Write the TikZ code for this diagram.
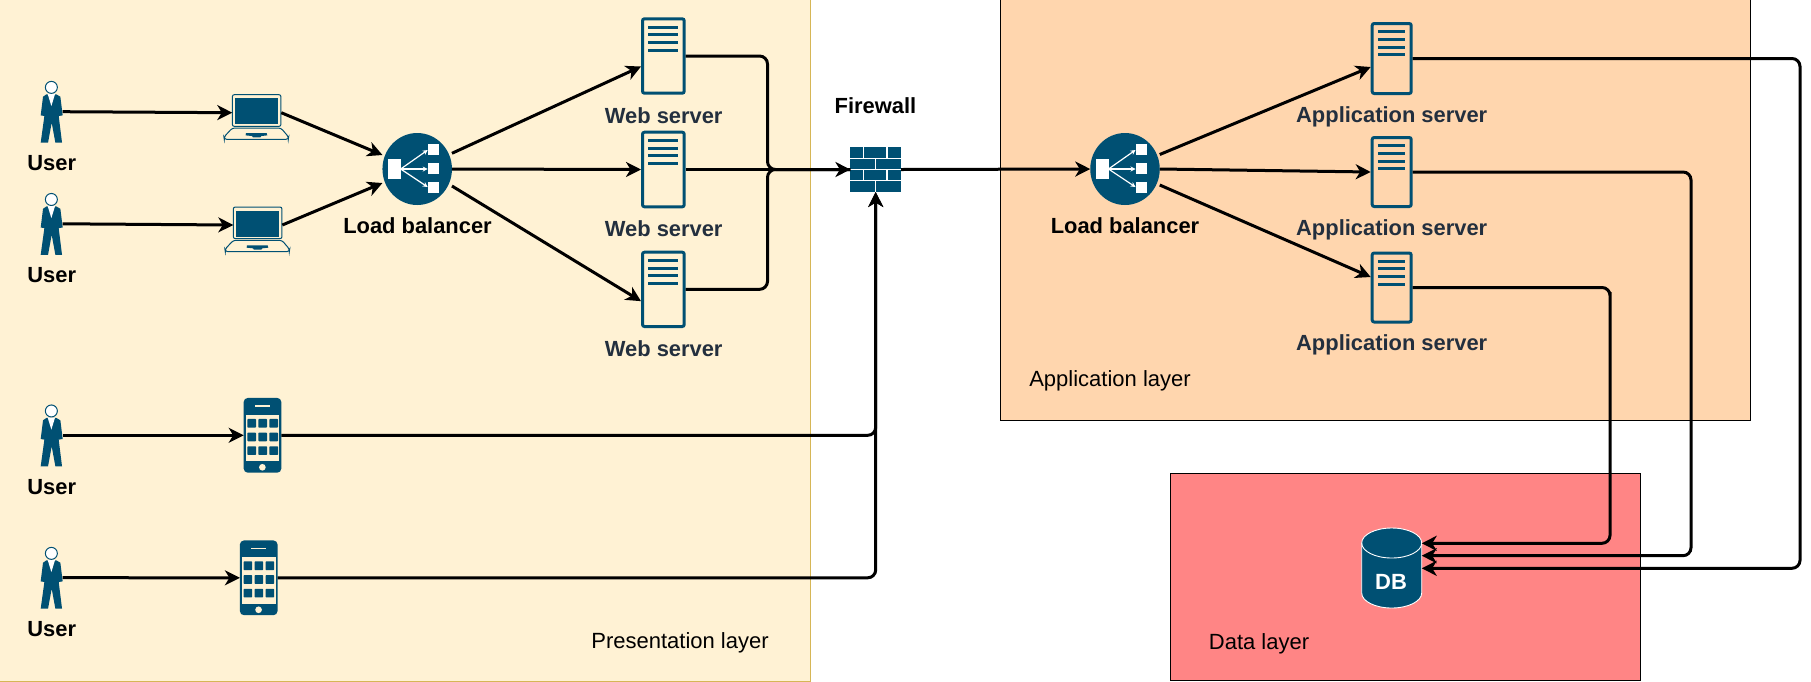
\documentclass[tikz,border=0pt]{standalone}
\usepackage{fontspec}
\setmainfont{Liberation Sans}
\usetikzlibrary{arrows.meta,shapes.geometric,calc}
\definecolor{iconblue}{HTML}{005073}
\definecolor{preFill}{HTML}{FFF2D4}
\definecolor{preLine}{HTML}{D6B656}
\definecolor{appFill}{HTML}{FFD6AE}
\definecolor{dataFill}{HTML}{FF8585}
\definecolor{labelDark}{HTML}{232F3E}
\tikzset{
  box/.style={rectangle,inner sep=0pt,outer sep=0pt},
  wire/.style={line width=3pt,rounded corners=8pt,-{Stealth[length=15pt,width=15pt,inset=4.5pt]}},
  plainwire/.style={line width=3pt,rounded corners=8pt},
  caption/.style={inner sep=0pt,font=\fontsize{21.9pt}{24pt}\selectfont\bfseries},
  servercaption/.style={caption,text=labelDark},
  layertext/.style={inner sep=0pt,font=\fontsize{22pt}{25pt}\selectfont},
  layer/.style={draw=black,line width=0.8pt},
}
% user figure
\newcommand{\userfig}[3]{%
  \node[box,minimum width=22pt,minimum height=62pt] (#1) at (#2,#3) {};
  \begin{scope}[shift={(#1.north west)},x=0.3333pt,y=-0.3333pt]
    \fill[iconblue] (17,41) -- (7,48) -- (0,104) -- (11,106) -- (0,186) -- (22,186) -- (33,126) -- (44,186) -- (64,186) -- (54,106) -- (66,104) -- (59,48) -- (47,41) -- cycle;
    \fill[white] (21,40) -- (43,40) -- (32,76) -- cycle;
    \draw[iconblue,fill=white,line width=1pt] (32,20) circle[radius=18];
  \end{scope}}
% laptop
\newcommand{\laptopfig}[3]{%
  \node[box,minimum width=49pt,minimum height=36pt] (#1) at (#2,#3) {};
  \begin{scope}[shift={(#1.north west)},x=0.3333pt,y=-0.3333pt]
    \draw[iconblue,line width=1pt,rounded corners=2pt] (0,0) rectangle (146,95);
    \fill[iconblue] (9,11) rectangle (136,89);
    \draw[iconblue,line width=1pt,rounded corners=2.5pt] (0,100) -- (-25,127) -- (-24,134) -- (168,134) -- (169,127) -- (146,100) -- cycle;
    \fill[iconblue] (41,115) -- (103,115) -- (105,122) -- (87,124) -- (84,128) -- (62,128) -- (59,124) -- (40,122) -- cycle;
  \end{scope}}
% phone
\newcommand{\phonefig}[3]{%
  \node[box,fill=iconblue,rounded corners=4pt,minimum width=37.6pt,minimum height=74.7pt] (#1) at (#2,#3) {};
  \begin{scope}[shift={(#1.north west)},x=0.3333pt,y=-0.3333pt]
    \fill[preFill] (6,51) rectangle (107,190);
    \foreach \cx in {11,44,77} \foreach \cy in {63,104,145}
      \fill[iconblue,rounded corners=0.7pt] (\cx,\cy) rectangle ++(26,26);
    \draw[preFill,line width=1.2pt] (34,24) -- (79,24);
    \fill[preFill] (56,208) circle[radius=10];
  \end{scope}}
% load balancer
\newcommand{\lbfig}[3]{%
  \node[ellipse,fill=iconblue,inner sep=0pt,outer sep=0pt,minimum width=69.5pt,minimum height=72pt] (#1) at (#2,#3) {};
  \begin{scope}[shift={(#1.center)}]
    \fill[white] (-29,-10) rectangle (-16.5,10);
    \fill[white] (11,-25) rectangle (22,-14);
    \fill[white] (11,-6) rectangle (22,5);
    \fill[white] (11,12.5) rectangle (22,23.5);
    \foreach \ty in {-19,0,18}
      \draw[white,line width=1.2pt,-{Stealth[length=5pt,width=5pt]}] (-16.5,0) -- (10.5,\ty);
  \end{scope}}
% server: name, left, top, right, bottom
\newcommand{\serverfig}[5]{%
  \pgfmathsetmacro{\sw}{#4-#2-3}\pgfmathsetmacro{\sh}{#5-#3-3}
  \pgfmathsetmacro{\scx}{(#2+#4)/2}\pgfmathsetmacro{\scy}{(#3+#5)/2}
  \node[box,draw=iconblue,line width=3pt,rounded corners=2pt,outer sep=1.5pt,minimum width=\sw pt,minimum height=\sh pt] (#1) at (\scx,\scy) {};
  \foreach \r in {9.7,17.3,25,32.7}
    \draw[iconblue,line width=3pt] ($(#2,#3)+(7.2,\r)$) -- ($(#4,#3)+(-7.4,\r)$);}
\begin{document}
\begin{tikzpicture}[x=1pt,y=-1pt]
\useasboundingbox (0,0) rectangle (1811,681);
% layers
\node[box,draw=preLine,fill=preFill,line width=1pt,minimum width=811pt,minimum height=682pt] (presentation) at (405,340.5) {};
\node[box,layer,fill=appFill,minimum width=750pt,minimum height=421pt] (application) at (1375,210) {};
\node[box,layer,fill=dataFill,minimum width=470pt,minimum height=207pt] (datalayer) at (1405,577) {};
\node[layertext] (tpres) at (680,643) {Presentation layer};
\node[layertext] (tapp) at (1110,381) {Application layer};
\node[layertext] (tdata) at (1259,644) {Data layer};
% users
\userfig{u1}{51.7}{111.7}
\userfig{u2}{51.7}{223.8}
\userfig{u3}{51.7}{435.3}
\userfig{u4}{51.7}{577.7}
\node[caption] (tu1) at (51.7,163.5) {User};
\node[caption] (tu2) at (51.7,275.5) {User};
\node[caption] (tu3) at (51.7,487) {User};
\node[caption] (tu4) at (51.7,629) {User};
% clients
\laptopfig{l1}{256.8}{112.7}
\laptopfig{l2}{257.8}{225}
\phonefig{p1}{262.5}{435.3}
\phonefig{p2}{258.7}{577.8}
% balancers
\lbfig{lb1}{417.2}{169}
\lbfig{lb2}{1125}{169}
\node[caption] (tlb1) at (417.5,225.5) {Load balancer};
\node[caption] (tlb2) at (1125,225.5) {Load balancer};
% web servers
\serverfig{w1}{641}{17.3}{685.7}{94.7}
\serverfig{w2}{641}{130.7}{685.7}{208.3}
\serverfig{w3}{641}{250.7}{685.7}{328}
\node[servercaption] (tw1) at (663.7,115.5) {Web server};
\node[servercaption] (tw2) at (663.7,228.5) {Web server};
\node[servercaption] (tw3) at (663.7,348.5) {Web server};
% application servers
\serverfig{a1}{1370.7}{22}{1412.7}{95}
\serverfig{a2}{1370.7}{136}{1412.7}{208}
\serverfig{a3}{1370.7}{251.5}{1412.7}{323.5}
\node[servercaption] (ta1) at (1391.7,116.5) {Application server};
\node[servercaption] (ta2) at (1391.7,230) {Application server};
\node[servercaption] (ta3) at (1391.7,345) {Application server};
% firewall
\node[box,fill=iconblue,minimum width=50.6pt,minimum height=45pt] (fw) at (875.7,169.5) {};
\begin{scope}[shift={(fw.north west)},x=0.506pt,y=-0.45pt]
  \draw[white,line width=1.4pt] (0,25) -- (100,25) (0,50) -- (100,50) (0,75) -- (100,75);
  \draw[white,line width=1.4pt] (26,0) -- (26,25) (72,0) -- (72,25) (49,25) -- (49,50) (26,50) -- (26,75) (72,50) -- (72,75) (49,75) -- (49,100);
\end{scope}
\node[caption] (tfw) at (875.5,105.5) {Firewall};
% database
\node[box,minimum width=60pt,minimum height=80pt] (db) at (1391.7,568) {};
\begin{scope}[shift={(db.north west)}]
  \draw[white,line width=0.9pt,fill=iconblue] (0,15) arc[x radius=30,y radius=15,start angle=180,end angle=360] -- (60,65) arc[x radius=30,y radius=15,start angle=0,end angle=180] -- cycle;
  \draw[white,line width=0.9pt] (0,15) arc[x radius=30,y radius=15,start angle=180,end angle=0];
\end{scope}
\node[caption,text=white,font=\fontsize{22pt}{24pt}\selectfont\bfseries] (tdb) at (1391,582) {DB};
% helper routing points
\coordinate (trunk) at (767.5,170);
\coordinate (r1) at (1800,300);
\coordinate (r2) at (1691,300);
\coordinate (r3) at (1610,300);
% connectors
\draw[wire] (u1.east) -- (l1.west);
\draw[wire] (u2.east) -- (l2.west);
\draw[wire] (u3.east) -- (p1.west);
\draw[wire] (u4.east) -- (p2.west);
\draw[wire] (l1.east) -- ([yshift=14pt]lb1.west);
\draw[wire] (l2.east) -- ([yshift=-14pt]lb1.west);
\draw[wire] ([yshift=15.7pt]lb1.east) -- ([yshift=-10.5pt]w1.west);
\draw[wire] (lb1.east) -- (w2.west);
\draw[wire] ([yshift=-17pt]lb1.east) -- ([yshift=-11.8pt]w3.west);
\draw[plainwire] (w1.east) -- (w1.east -| trunk) -- (trunk |- fw.west) -- (fw.west);
\draw[plainwire] (w3.east) -- (w3.east -| trunk) -- (trunk |- fw.west) -- (fw.west);
\draw[wire] (w2.east) -- (fw.west);
\draw[wire] (p1.east) -| (fw.south);
\draw[wire] (p2.east) -| (fw.south);
\draw[wire] (fw.east) -- (lb2.west);
\draw[wire] ([yshift=14.5pt]lb2.east) -- ([yshift=-8.5pt]a1.west);
\draw[wire] (lb2.east) -- (a2.west);
\draw[wire] ([yshift=-16pt]lb2.east) -- ([yshift=10.5pt]a3.west);
\draw[wire] (a1.east) -| (r1) |- ([yshift=-0.3pt]db.east);
\draw[wire] (a2.east) -| (r2) |- ([yshift=12.3pt]db.east);
\draw[wire] (a3.east) -| (r3) |- ([yshift=24.7pt]db.east);
\end{tikzpicture}
\end{document}
